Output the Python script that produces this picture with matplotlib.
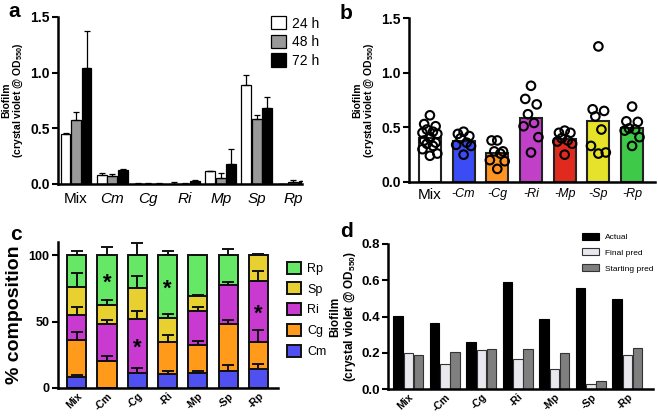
import numpy as np
import matplotlib
matplotlib.use('Agg')
from matplotlib import pyplot as plt
from matplotlib.patches import Patch

plt.rcParams['font.family'] = ['Liberation Sans', 'DejaVu Sans']
plt.rcParams['mathtext.default'] = 'regular'
plt.rcParams['axes.linewidth'] = 1.8

# ---- panel a data ----
species = ['Mix', 'Cm', 'Cg', 'Ri', 'Mp', 'Sp', 'Rp']
h24 = [0.445, 0.08, 0.004, 0.004, 0.115, 0.885, 0.0]
e24 = [0.012, 0.015, 0.002, 0.01, 0.005, 0.095, 0.0]
h48 = [0.575, 0.07, 0.003, 0.004, 0.05, 0.58, 0.015]
e48 = [0.07, 0.02, 0.002, 0.003, 0.05, 0.04, 0.025]
h72 = [1.04, 0.125, 0.004, 0.028, 0.18, 0.685, 0.025]
e72 = [0.33, 0.01, 0.002, 0.005, 0.13, 0.095, 0.005]

# ---- panel b data ----
dropout = ['Mix', '-Cm', '-Cg', '-Ri', '-Mp', '-Sp', '-Rp']
pts_mix = [0.61, 0.53, 0.51, 0.48, 0.46, 0.45, 0.44, 0.41, 0.40, 0.38, 0.36, 0.35, 0.33, 0.30, 0.26, 0.24]
pts_cm = [0.46, 0.44, 0.42, 0.40, 0.36, 0.34, 0.33, 0.25]
pts_cg = [0.38, 0.38, 0.28, 0.28, 0.26, 0.20, 0.19, 0.12]
pts_ri = [0.88, 0.76, 0.71, 0.62, 0.54, 0.51, 0.41, 0.27]
pts_mp = [0.47, 0.45, 0.45, 0.40, 0.38, 0.37, 0.35, 0.25]
pts_sp = [1.24, 0.665, 0.65, 0.60, 0.48, 0.33, 0.27, 0.26]
pts_rp = [0.69, 0.555, 0.55, 0.49, 0.48, 0.47, 0.41, 0.33]
b_colors = ['white', '#3b4cf5', '#ff9422', '#c040c8', '#e02a1e', '#e6e22a', '#3ec948']

# ---- panel c data (% composition per segment, and SD) ----
comp_labels = ['Cm', 'Cg', 'Ri', 'Sp', 'Rp']
comp_cm = [8.5, 0, 11.5, 10.5, 11, 13, 14.5]
comp_cg = [27.5, 20.5, 0, 24.5, 21.5, 35, 20.5]
comp_ri = [19, 27.5, 40.5, 0, 25.5, 29.5, 45.5]
comp_sp = [21, 14.5, 23.5, 18, 11, 0, 19.5]
comp_rp = [24, 37.5, 24.5, 47, 31, 22.5, 0]
sd_cm = [1.5, 0, 3.5, 2, 2, 4, 3.5]
sd_cg = [6, 3.5, 0, 5, 3, 3, 9]
sd_ri = [6, 3, 6, 0, 3, 2, 7.5]
sd_sp = [11, 3.5, 9, 3, 1, 0, 1]
sd_rp = [3, 6, 9, 3, 0.5, 5, 0]
c_colors = ['#5050f0', '#ff9a1a', '#c83ad0', '#e8d030', '#66e866']
# significant segment per community (index into comp_labels), None = none
signif = [None, 4, 2, 4, None, None, 2]

# ---- panel d data ----
actual = [0.403, 0.364, 0.259, 0.588, 0.388, 0.56, 0.495]
final_pred = [0.196, 0.136, 0.216, 0.164, 0.111, 0.026, 0.185]
start_pred = [0.189, 0.205, 0.22, 0.22, 0.198, 0.044, 0.224]

W, H = 658, 417
fig = plt.figure(figsize=(W / 100, H / 100), dpi=100)


def px(l, r, b, t):
    return [l / W, 1 - b / H, (r - l) / W, (b - t) / H]


def style(ax):
    for s in ['top', 'right']:
        ax.spines[s].set_visible(False)
    ax.tick_params(axis='y', length=4, width=1.5, direction='out', pad=2)
    for t in ax.get_yticklabels():
        t.set_fontweight('bold')


ylab = 'Biofilm\n(crystal violet @ OD$_{550}$)'

# ---------------- a ----------------
ax = fig.add_axes(px(58, 302, 184, 17))
x = np.arange(len(species))
w = 0.27
for off, hh, ee, fc in [(-0.29, h24, e24, 'white'), (0, h48, e48, '#999999'), (0.29, h72, e72, 'black')]:
    ax.bar(x + off, hh, w, color=fc, edgecolor='black', linewidth=0.9,
           yerr=[np.zeros(len(ee)), ee], capsize=2.5, error_kw=dict(elinewidth=0.9, capthick=0.9, ecolor='black'))
ax.set_xlim(-0.5, 6.25)
ax.set_ylim(0, 1.5)
ax.set_yticks([0, 0.5, 1.0, 1.5])
ax.set_yticklabels(['0.0', '0.5', '1.0', '1.5'], fontsize=10)
ax.set_xticks(x)
ax.set_xticklabels(species, fontsize=11)
for i, t in enumerate(ax.get_xticklabels()):
    if i > 0:
        t.set_style('italic')
ax.tick_params(axis='x', length=0, pad=6)
ax.set_ylabel(ylab, fontsize=7.5, fontweight='bold', linespacing=1.0, labelpad=4)
style(ax)
hnd = [Patch(facecolor=c, edgecolor='black', linewidth=0.9) for c in ['white', '#999999', 'black']]
ax.legend(hnd, ['24 h', '48 h', '72 h'], loc='upper right', bbox_to_anchor=(1.12, 1.08), frameon=False,
          fontsize=10, handlelength=1.1, handleheight=1.1, handletextpad=0.4, labelspacing=0.3)

# ---------------- b ----------------
ax = fig.add_axes(px(409, 655, 182, 18))
pts_all = [pts_mix, pts_cm, pts_cg, pts_ri, pts_mp, pts_sp, pts_rp]
means = [np.mean(p) for p in pts_all]
x = np.arange(len(dropout))
ax.bar(x, means, 0.65, color=b_colors, edgecolor='#222222', linewidth=1.5, zorder=1)
pattern = [0.0, -0.17, 0.17, -0.09, 0.09, -0.22, 0.22, 0.0]
for i, p in enumerate(pts_all):
    offs = np.array([pattern[k % len(pattern)] for k in range(len(p))])
    ax.scatter(x[i] + offs, p, s=38, facecolor='none', edgecolor='black', linewidth=1.5, zorder=3)
ax.set_xlim(-0.62, 6.68)
ax.set_ylim(0, 1.5)
ax.set_yticks([0, 0.5, 1.0, 1.5])
ax.set_yticklabels(['0.0', '0.5', '1.0', '1.5'], fontsize=10)
ax.set_xticks(x)
ax.set_xticklabels(dropout, fontsize=9)
for i, t in enumerate(ax.get_xticklabels()):
    if i > 0:
        t.set_style('italic')
    else:
        t.set_fontsize(11)
ax.tick_params(axis='x', length=0, pad=4)
ax.set_ylabel(ylab, fontsize=7.5, fontweight='bold', linespacing=1.0, labelpad=4)
style(ax)

# ---------------- c ----------------
ax = fig.add_axes(px(58, 278, 388, 242))
x = np.arange(len(dropout))
segs = [comp_cm, comp_cg, comp_ri, comp_sp, comp_rp]
sds = [sd_cm, sd_cg, sd_ri, sd_sp, sd_rp]
bottom = np.zeros(len(dropout))
tops = []
for seg, c, lab in zip(segs, c_colors, comp_labels):
    seg = np.array(seg, dtype=float)
    ax.bar(x, seg, 0.63, bottom=bottom, color=c, edgecolor='#111111', linewidth=1.4, label=lab, zorder=1)
    bottom = bottom + seg
    tops.append(bottom.copy())
for k, (sd, top) in enumerate(zip(sds, tops)):
    sd = np.array(sd, dtype=float)
    keep = np.array(segs[k]) > 0
    ax.errorbar(x[keep], top[keep], yerr=[np.zeros(keep.sum()), sd[keep]], fmt='none',
                ecolor='#111111', elinewidth=1.4, capsize=4, capthick=1.4, zorder=3)
for i, s in enumerate(signif):
    if s is not None:
        lo = tops[s][i] - segs[s][i]
        ax.text(x[i], (lo + tops[s][i]) / 2 - 2, '*', ha='center', va='center', fontsize=16, fontweight='bold')
ax.set_xlim(-0.62, 6.65)
ax.set_ylim(0, 110)
ax.set_yticks([0, 50, 100])
ax.set_yticklabels(['0', '50', '100'], fontsize=9)
ax.set_xticks(x)
ax.set_xticklabels(dropout, fontsize=7.5, fontweight='bold', rotation=45, ha='right', rotation_mode='anchor')
ax.tick_params(axis='x', length=0, pad=2)
ax.set_ylabel('% composition', fontsize=14, fontweight='bold', labelpad=4)
style(ax)
h, l = ax.get_legend_handles_labels()
ax.legend(h[::-1], l[::-1], loc='upper left', bbox_to_anchor=(1.02, 0.9), frameon=False, fontsize=9,
          handlelength=1.1, handleheight=1.1, handletextpad=0.5, labelspacing=0.6, borderaxespad=0)

# ---------------- d ----------------
ax = fig.add_axes(px(388, 653, 389, 244))
x = np.arange(len(dropout))
w = 0.26
ax.bar(x - 0.28, actual, w, color='black', edgecolor='black', linewidth=0.8, label='Actual')
ax.bar(x, final_pred, w, color='#e8e8ee', edgecolor='#333333', linewidth=0.8, label='Final pred')
ax.bar(x + 0.28, start_pred, w, color='#7f7f7f', edgecolor='#333333', linewidth=0.8, label='Starting pred')
ax.set_xlim(-0.56, 6.7)
ax.set_ylim(0, 0.8)
ax.set_yticks([0, 0.2, 0.4, 0.6, 0.8])
ax.set_yticklabels(['0.0', '0.2', '0.4', '0.6', '0.8'], fontsize=9.5)
ax.set_xticks(x)
ax.set_xticklabels(dropout, fontsize=7.5, fontweight='bold', rotation=45, ha='right', rotation_mode='anchor')
ax.tick_params(axis='x', length=0, pad=2)
ax.set_ylabel(ylab, fontsize=8.5, fontweight='bold', linespacing=1.05, labelpad=2)
style(ax)
ax.legend(loc='upper right', bbox_to_anchor=(1.03, 1.13), frameon=False, fontsize=6,
          handlelength=2.0, handleheight=0.9, handletextpad=0.7, labelspacing=0.9)

for lab, fx, fy in [('a', 8, 2), ('b', 340, 4), ('c', 10, 225), ('d', 340, 222)]:
    fig.text(fx / W, 1 - fy / H, lab, fontsize=15, fontweight='bold', va='top', ha='left')

fig.savefig('out.png', dpi=100)
